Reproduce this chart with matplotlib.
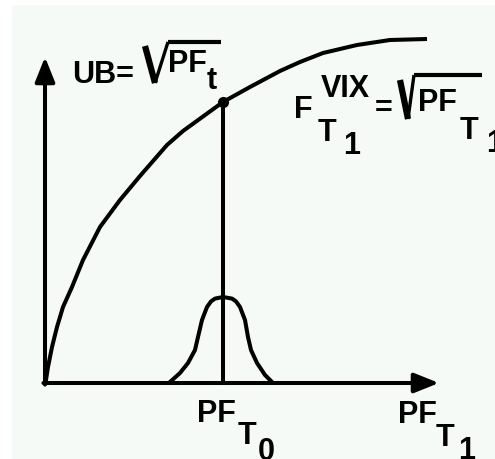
import matplotlib
matplotlib.use("Agg")
import matplotlib.pyplot as plt
from matplotlib.lines import Line2D

# Upper bound curve UB = sqrt(PF), sampled points (PF, UB) in plot units
ub_pf = [0.0, 0.025, 0.075, 0.175, 0.3, 0.45, 0.675, 0.95, 1.375, 1.875, 2.375,
         3.05, 3.45, 4.45, 5.125, 5.875, 6.375, 6.95, 7.8, 8.625, 9.55]
ub_val = [0.0, 0.075, 0.4, 0.9, 1.4, 1.9, 2.4, 3.075, 3.9, 4.575, 5.175,
          5.95, 6.3, 7.025, 7.4, 7.8, 8.025, 8.25, 8.45, 8.575, 8.6]

# Distribution of PF at T1 around PF_T0
dist_pf = [3.125, 3.375, 3.575, 3.75, 3.825, 3.925, 4.05, 4.15, 4.25, 4.45,
           4.675, 4.775, 4.875, 5.0, 5.075, 5.15, 5.3, 5.5, 5.675]
dist_den = [0.025, 0.25, 0.5, 0.825, 1.15, 1.575, 1.9, 2.04, 2.11, 2.15,
            2.11, 2.04, 1.9, 1.575, 1.15, 0.825, 0.5, 0.2, 0.025]

pf_t0 = 4.45
ub_t0 = 7.025

# Axis extents
x_axis_end = 9.85
y_axis_end = 8.15

W, H = 495, 459
fig = plt.figure(figsize=(W / 100, H / 100), dpi=100, facecolor="white")
bg = "#f5faf6"
ax = fig.add_axes([12 / W, 0, (W - 12) / W, (H - 5) / H], facecolor=bg)
ax.set_xlim(-0.825, 11.25)
ax.set_ylim(-1.9, 9.45)
for s in ax.spines.values():
    s.set_visible(False)
ax.set_xticks([])
ax.set_yticks([])

lw = 2.9
ax.plot(ub_pf, ub_val, color="black", lw=lw, solid_capstyle="butt",
        solid_joinstyle="round", clip_on=False)
ax.plot(dist_pf, dist_den, color="black", lw=lw, solid_joinstyle="round",
        clip_on=False)
ax.plot([pf_t0, pf_t0], [0, ub_t0], color="black", lw=lw)
ax.plot([pf_t0], [ub_t0], "o", color="black", ms=7)

arrow = dict(arrowstyle="-|>,head_length=1.5,head_width=0.6", color="black",
             lw=lw, shrinkA=0, shrinkB=0)
ax.annotate("", xy=(x_axis_end, 0), xytext=(-0.04, 0), arrowprops=arrow)
ax.annotate("", xy=(0, y_axis_end), xytext=(0, -0.04), arrowprops=arrow)

FS = 22
font = dict(family=["Liberation Sans", "DejaVu Sans"], weight="bold")


def label(x, y, s, size=FS):
    fig.text(x / W, 1 - y / H, s, ha="left", va="baseline", size=size, **font)


def radical(x0, y0, xb, yb, xr, yr, xend):
    # hand-drawn radical sign: thick left stroke, thin right stroke, overbar
    fig.add_artist(Line2D([x0 / W, xb / W], [1 - y0 / H, 1 - yb / H],
                          color="black", lw=4.5, solid_capstyle="butt"))
    fig.add_artist(Line2D([xb / W, xr / W], [1 - yb / H, 1 - yr / H],
                          color="black", lw=2.4, solid_capstyle="butt"))
    fig.add_artist(Line2D([xr / W, xend / W], [1 - yr / H, 1 - yr / H],
                          color="black", lw=3.0, solid_capstyle="butt"))


# UB = sqrt(PF_t)
label(72, 83, "UB=")
radical(145, 46, 155, 83, 168, 42, 221)
label(168, 72, "PF")
label(207, 89, "t")

# F_T1^VIX = sqrt(PF_T1)
label(294, 118, "F")
label(321, 97, "VIX")
label(318, 141, "T")
label(343, 154, "1")
label(375, 117, "=")
radical(400, 80, 408, 119, 414, 75, 482)
label(418, 111, "PF")
label(460, 139, "T")
label(486, 152, "1")

# x-axis labels
label(197, 422, "PF")
label(238, 444, "T")
label(258, 460, "0")
label(398, 423, "PF")
label(436, 446, "T")
label(458, 459, "1")

fig.savefig("out.png", dpi=100, facecolor="white")
